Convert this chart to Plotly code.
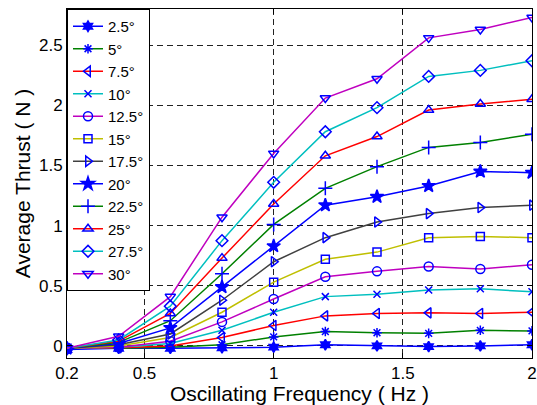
import plotly.graph_objects as go

freq = [0.2, 0.4, 0.6, 0.8, 1.0, 1.2, 1.4, 1.6, 1.8, 2.0]

angles = ["2.5°", "5°", "7.5°", "10°", "12.5°", "15°", "17.5°", "20°", "22.5°", "25°", "27.5°", "30°"]

thrust_2_5 = [-0.03, -0.02, -0.02, -0.015, -0.01, 0.01, 0.0, -0.005, 0.0, 0.01]
thrust_5 = [-0.02, -0.02, -0.01, 0.01, 0.075, 0.12, 0.11, 0.105, 0.13, 0.125]
thrust_7_5 = [-0.02, -0.015, 0.0, 0.07, 0.17, 0.25, 0.27, 0.275, 0.27, 0.28]
thrust_10 = [-0.02, -0.01, 0.02, 0.13, 0.28, 0.41, 0.43, 0.465, 0.475, 0.45]
thrust_12_5 = [-0.02, -0.01, 0.04, 0.20, 0.39, 0.575, 0.62, 0.66, 0.64, 0.675]
thrust_15 = [-0.02, 0.0, 0.07, 0.28, 0.53, 0.72, 0.78, 0.90, 0.91, 0.90]
thrust_17_5 = [-0.02, 0.01, 0.10, 0.38, 0.70, 0.90, 1.03, 1.10, 1.15, 1.17]
thrust_20 = [-0.02, 0.02, 0.15, 0.49, 0.83, 1.17, 1.24, 1.33, 1.45, 1.44]
thrust_22_5 = [-0.02, 0.03, 0.21, 0.60, 1.01, 1.31, 1.49, 1.65, 1.69, 1.76]
thrust_25 = [-0.02, 0.04, 0.27, 0.73, 1.18, 1.58, 1.74, 1.96, 2.01, 2.05]
thrust_27_5 = [-0.02, 0.05, 0.33, 0.875, 1.36, 1.78, 1.98, 2.24, 2.29, 2.37]
thrust_30 = [-0.02, 0.08, 0.41, 1.07, 1.60, 2.06, 2.22, 2.56, 2.63, 2.73]

series = [thrust_2_5, thrust_5, thrust_7_5, thrust_10, thrust_12_5, thrust_15,
          thrust_17_5, thrust_20, thrust_22_5, thrust_25, thrust_27_5, thrust_30]

x_ticks = [0.2, 0.5, 1, 1.5, 2]
x_tick_labels = ["0.2", "0.5", "1", "1.5", "2"]
y_ticks = [0, 0.5, 1, 1.5, 2, 2.5]
y_tick_labels = ["0", "0.5", "1", "1.5", "2", "2.5"]

line_colors = ["#0000ff", "#008000", "#ff0000", "#00bfbf", "#bf00bf", "#bfbf00",
               "#404040", "#0000ff", "#008000", "#ff0000", "#00bfbf", "#bf00bf"]
symbols = ["hexagram", "asterisk-open", "triangle-left-open", "x-thin-open", "circle-open",
           "square-open", "triangle-right-open", "star", "cross-thin-open",
           "triangle-up-open", "diamond-open", "triangle-down-open"]
sizes = [8, 8, 9, 7, 9, 8, 9, 10, 10, 9, 9, 9]

fig = go.Figure()
for name, ys, col, sym, sz in zip(angles, series, line_colors, symbols, sizes):
    fig.add_trace(go.Scatter(
        x=freq, y=ys, name=name, mode="lines+markers",
        line=dict(color=col, width=1.5),
        marker=dict(symbol=sym, size=sz, color="#0000ff",
                    line=dict(color="#0000ff", width=1.5)),
    ))

font_family = "Liberation Sans, Arial, sans-serif"
fig.update_layout(
    width=537, height=405,
    margin=dict(l=67, r=5, t=9, b=47),
    paper_bgcolor="white", plot_bgcolor="white",
    font=dict(family=font_family, size=17, color="black"),
    showlegend=True,
    legend=dict(x=0, y=1, xanchor="left", yanchor="top",
                bgcolor="white", bordercolor="black", borderwidth=1,
                font=dict(size=15), itemwidth=30, tracegroupgap=0,
                traceorder="normal"),
    xaxis=dict(
        range=[0.2, 2.0], tickvals=x_ticks, ticktext=x_tick_labels,
        showgrid=True, gridcolor="#222222", griddash="6px,4px", gridwidth=1,
        zeroline=False, showline=True, linecolor="black", linewidth=1,
        mirror="ticks", ticks="inside", ticklen=5, tickcolor="black",
        automargin=False,
        title=dict(text="Oscillating Frequency ( Hz )", font=dict(size=21), standoff=2),
        tickfont=dict(size=17),
    ),
    yaxis=dict(
        range=[-0.1, 2.8], tickvals=y_ticks, ticktext=y_tick_labels,
        showgrid=True, gridcolor="#222222", griddash="6px,4px", gridwidth=1,
        zeroline=False, showline=True, linecolor="black", linewidth=1,
        mirror="ticks", ticks="inside", ticklen=5, tickcolor="black",
        automargin=False,
        title=dict(text="Average Thrust ( N )", font=dict(size=21), standoff=2),
        tickfont=dict(size=17),
    ),
)

fig.write_html("out.html", config={"displayModeBar": False},
               post_script="document.body.style.margin='0';document.body.style.overflow='hidden';")
